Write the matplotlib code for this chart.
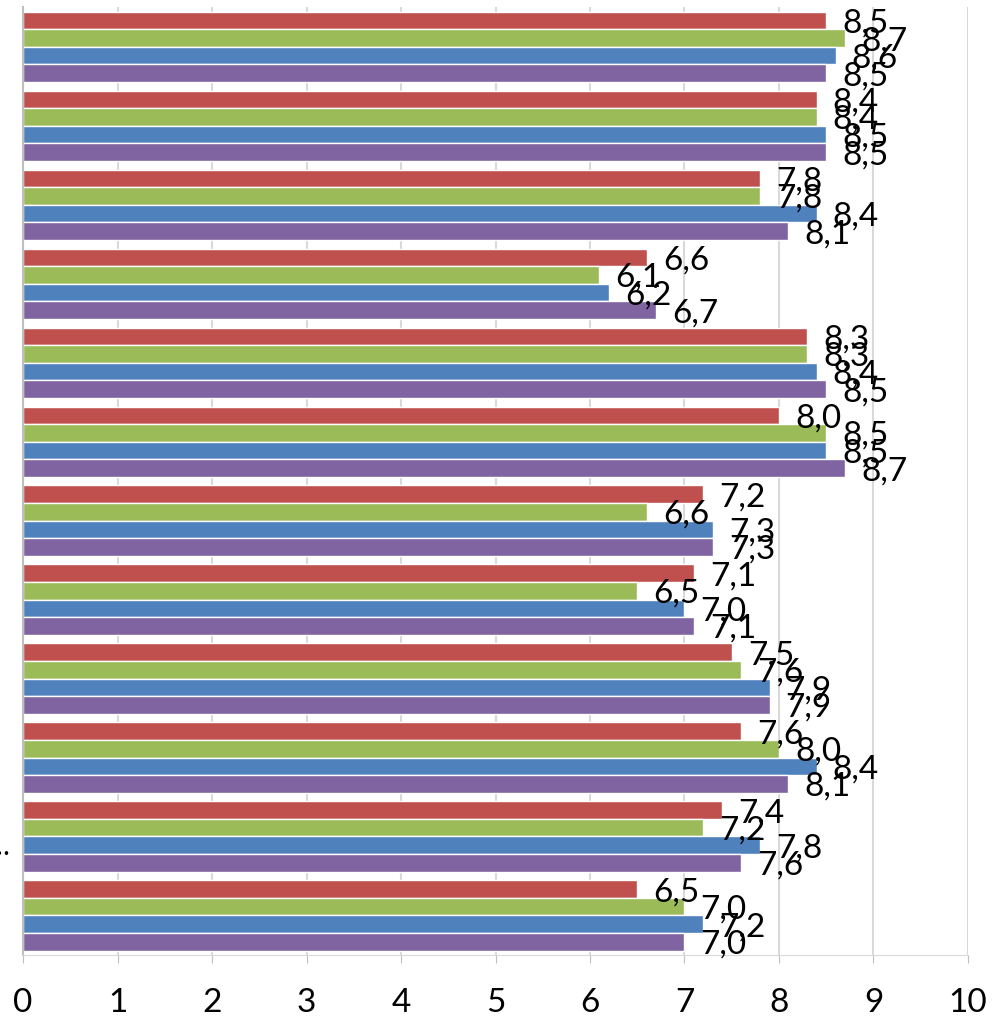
import numpy as np
import matplotlib
matplotlib.use('Agg')
import matplotlib.pyplot as plt

plt.rcParams['font.family'] = ['Lato', 'DejaVu Sans']

# groups from top to bottom; category names are cut off in the reference
groups = ['', '', '', '', '', '', '', '', '', '', '\u2026', '']
red = [8.5, 8.4, 7.8, 6.6, 8.3, 8.0, 7.2, 7.1, 7.5, 7.6, 7.4, 6.5]
green = [8.7, 8.4, 7.8, 6.1, 8.3, 8.5, 6.6, 6.5, 7.6, 8.0, 7.2, 7.0]
blue = [8.6, 8.5, 8.4, 6.2, 8.4, 8.5, 7.3, 7.0, 7.9, 8.4, 7.8, 7.2]
purple = [8.5, 8.5, 8.1, 6.7, 8.5, 8.7, 7.3, 7.1, 7.9, 8.1, 7.6, 7.0]
series = [red, green, blue, purple]
colors = ['#C0504D', '#9BBB59', '#4F81BD', '#8064A2']

fig = plt.figure(figsize=(9.92, 10.23), dpi=100)
ax = fig.add_axes([0.0232, 0.0665, 0.9526, 0.9265])

h = 0.222
y = np.arange(len(groups))
for i, (vals, c) in enumerate(zip(series, colors)):
    pos = y + (i - 1.5) * h
    ax.barh(pos, vals, height=h, color=c, edgecolor='white', linewidth=1, zorder=2)
    for p, v in zip(pos, vals):
        ax.text(v + 0.17, p + 0.04, f'{v:.1f}'.replace('.', ','), va='center', ha='left',
                fontsize=24, zorder=3)

ax.set_xlim(0, 10)
ax.set_ylim(len(groups) - 0.5, -0.5)
ax.set_xticks(range(11))
ax.tick_params(axis='x', labelsize=24, length=6, color='#BFBFBF', pad=18)
ax.set_yticks(y + 0.1)
ax.set_yticklabels(groups, fontsize=20)
ax.tick_params(axis='y', length=0, pad=10)
ax.grid(axis='x', color='#D9D9D9', linewidth=1.5, zorder=0)
for s in ['top', 'right']:
    ax.spines[s].set_visible(False)
ax.spines['left'].set_color('#BFBFBF')
ax.spines['bottom'].set_color('#D9D9D9')
ax.spines['left'].set_linewidth(1.5)

fig.savefig('out.png', dpi=100)
